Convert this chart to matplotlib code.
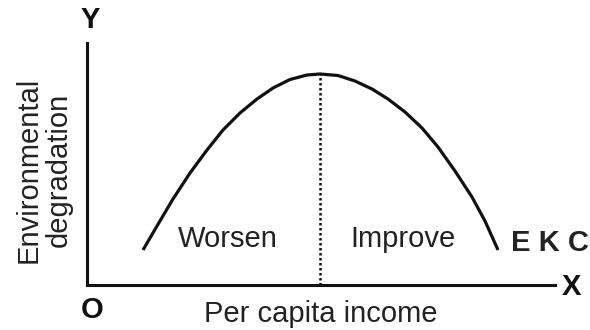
import matplotlib.pyplot as plt

plt.rcParams['font.family'] = ['Liberation Sans', 'DejaVu Sans']

# EKC curve (income vs degradation)
income = [56, 70, 86, 103, 120, 136, 153, 170, 186, 203, 220, 233,
          251, 268, 285, 301, 318, 335, 351, 368, 385, 398, 411]
degradation = [35, 59, 86, 112, 135, 155, 172, 186, 197, 205.5, 210, 211,
               209.5, 204, 196, 186, 173, 157, 138, 114, 88, 64, 35]
turning_point = 233
region_labels = ['Worsen', 'Improve']

fig = plt.figure(figsize=(5.9, 3.3), dpi=100)
ax = fig.add_axes([87 / 590, 45 / 330, 468 / 590, 242 / 330])
ax.set_xlim(0, 468)
ax.set_ylim(0, 242)

for side in ['top', 'right']:
    ax.spines[side].set_visible(False)
for side in ['left', 'bottom']:
    ax.spines[side].set_linewidth(2.2)
    ax.spines[side].set_color('#111111')
    ax.spines[side].set_capstyle('projecting')
ax.set_xticks([])
ax.set_yticks([])

ax.plot(income, degradation, color='#111111', lw=2.3,
        solid_joinstyle='round', solid_capstyle='butt')
peak = degradation[income.index(turning_point)]
ax.vlines(turning_point, 0, peak, colors='#111111', lw=1.8,
          linestyles=(0, (1, 1)))

fs = 21
ax.text(141, 38, region_labels[0], fontsize=fs, ha='center', va='baseline', color='#222222')
ax.text(316, 38, region_labels[1], fontsize=fs, ha='center', va='baseline', color='#222222')
ax.text(463, 42, 'E K C', fontsize=fs, fontweight='bold', ha='center', va='center',
        clip_on=False, color='#222222')
ax.text(234, -37, 'Per capita income', fontsize=fs, ha='center', va='baseline',
        clip_on=False, color='#222222')
ax.text(-50, 115, 'Environmental', fontsize=fs, rotation=90, rotation_mode='anchor',
        ha='center', va='baseline', clip_on=False, color='#222222')
ax.text(-20, 115, 'degradation', fontsize=fs, rotation=90, rotation_mode='anchor',
        ha='center', va='baseline', clip_on=False, color='#222222')
ax.text(3, 265, 'Y', fontsize=fs, fontweight='bold', ha='center', va='center',
        clip_on=False, color='#111111')
ax.text(5, -25, 'O', fontsize=fs, fontweight='bold', ha='center', va='center',
        clip_on=False, color='#111111')
ax.text(484, -2, 'X', fontsize=fs, fontweight='bold', ha='center', va='center',
        clip_on=False, color='#111111')

fig.savefig('out.png', dpi=100)
